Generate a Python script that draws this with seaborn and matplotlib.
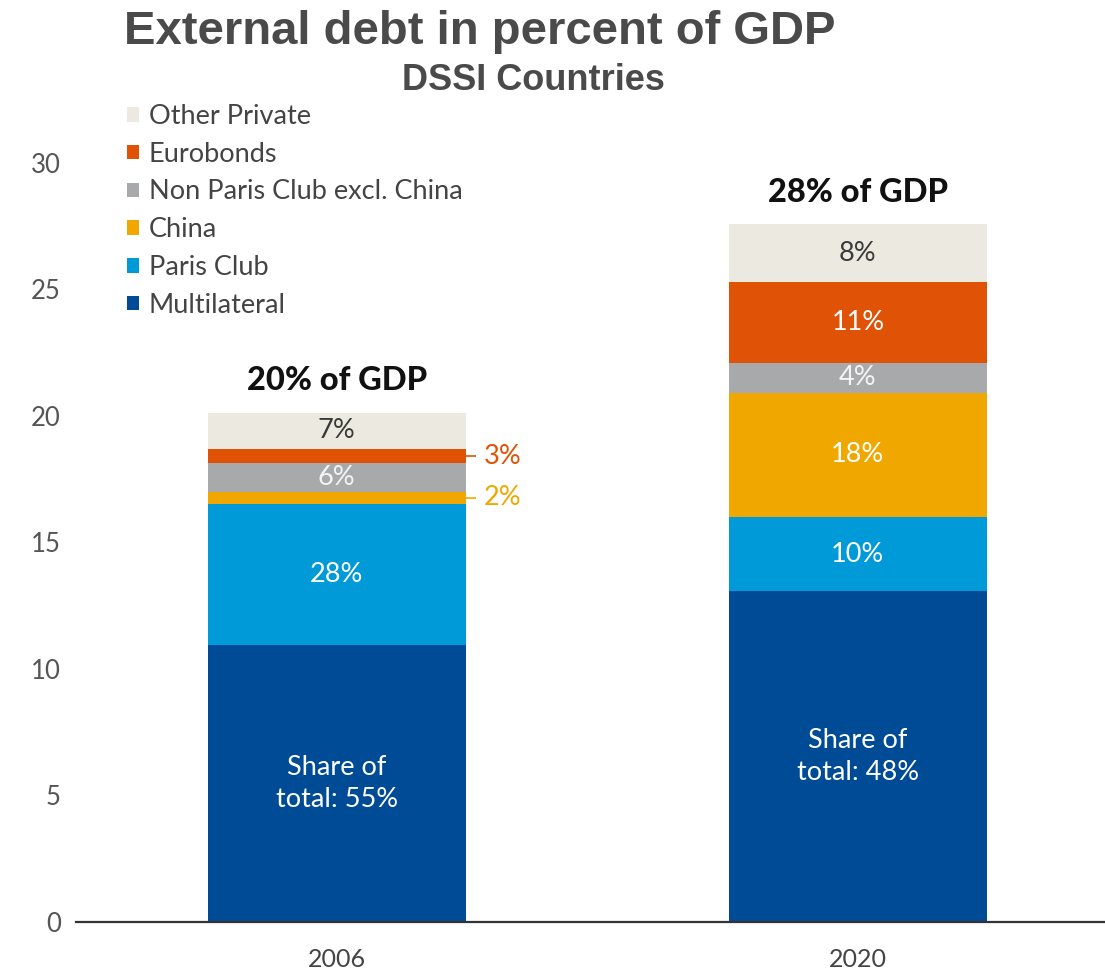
import matplotlib
matplotlib.use("Agg")
import matplotlib.pyplot as plt
from matplotlib.patches import Patch
import seaborn as sns
import numpy as np
import pandas as pd

# Years and creditor groups (stacked bottom to top)
years = ["2006", "2020"]
creditors = ["Multilateral", "Paris Club", "China",
             "Non Paris Club excl. China", "Eurobonds", "Other Private"]

# External debt by creditor, percent of GDP
multilateral = [10.95, 13.08]
paris_club = [5.57, 2.92]
china = [0.49, 4.92]
non_paris_club = [1.12, 1.19]
eurobonds = [0.57, 3.17]
other_private = [1.43, 2.29]

# Share of total external debt, percent (segment labels)
share_multilateral = [55, 48]
share_paris_club = [28, 10]
share_china = [2, 18]
share_non_paris_club = [6, 4]
share_eurobonds = [3, 11]
share_other_private = [7, 8]

# Headline totals, percent of GDP
totals_label = [20, 28]

colors = {
    "Multilateral": "#004b96",
    "Paris Club": "#009ad9",
    "China": "#f0a800",
    "Non Paris Club excl. China": "#a8a9ab",
    "Eurobonds": "#e05206",
    "Other Private": "#ebe9e0",
}

series = [multilateral, paris_club, china, non_paris_club, eurobonds, other_private]
shares = [share_multilateral, share_paris_club, share_china,
          share_non_paris_club, share_eurobonds, share_other_private]

sns.set_theme(style="white")
plt.rcParams["font.family"] = ["Lato", "DejaVu Sans"]

fig = plt.figure(figsize=(11.05, 9.73), dpi=100)
ax = fig.add_axes([76 / 1105, 51 / 973, 1 - 76 / 1105, (922 - 87) / 973])

bottom = np.zeros(len(years))
for name, vals in zip(creditors, series):
    df = pd.DataFrame({"year": years, "value": vals})
    sns.barplot(data=df, x="year", y="value", bottom=bottom.copy(),
                color=colors[name], width=0.495, saturation=1,
                edgecolor="none", linewidth=0, ax=ax)
    bottom += np.array(vals)

ax.set_xlim(-0.5, 1.474)
ax.set_ylim(0, 33)
ax.set_yticks([0, 5, 10, 15, 20, 25, 30])
ax.set_xlabel("")
ax.set_ylabel("")
for s in ["top", "right", "left"]:
    ax.spines[s].set_visible(False)
ax.spines["bottom"].set_color("#333333")
ax.spines["bottom"].set_linewidth(1.6)
ax.tick_params(axis="y", length=0, labelsize=18.5, labelcolor="#555555", pad=11)
ax.tick_params(axis="x", length=0, labelsize=18, labelcolor="#444444", pad=19)
ax.grid(False)

# Segment labels inside the bars
cum = np.zeros(len(years))
label_colors = {
    "Multilateral": "white", "Paris Club": "white", "China": "white",
    "Non Paris Club excl. China": "#f4f4f4", "Eurobonds": "white",
    "Other Private": "#3a3a3a",
}
for name, vals, sh in zip(creditors, series, shares):
    for i, (v, s) in enumerate(zip(vals, sh)):
        mid = cum[i] + v / 2
        if name == "Multilateral":
            ax.text(i, mid, f"Share of\ntotal: {s}%", ha="center", va="center",
                    color="white", fontsize=19.5, linespacing=1.35)
        elif v < 0.8:
            # thin slices get an outside callout
            c = colors[name]
            ax.plot([i + 0.2475, i + 0.268], [mid, mid], color=c, lw=1.2,
                    solid_capstyle="butt")
            ax.text(i + 0.282, mid, f"{s}%", ha="left", va="center",
                    color=c, fontsize=19.5)
        else:
            ax.text(i, mid, f"{s}%", ha="center", va="center",
                    color=label_colors[name], fontsize=19.5)
    cum += np.array(vals)

# Totals above bars
for i, t in enumerate(totals_label):
    ax.text(i, cum[i] + 1.28, f"{t}% of GDP", ha="center", va="center",
            fontsize=23.5, fontweight="black", color="#111111")

# Legend (top of stack first)
handles = [Patch(facecolor=colors[n], edgecolor="none") for n in creditors[::-1]]
fig.legend(handles, creditors[::-1], loc="upper left",
           bbox_to_anchor=(127 / 1105, 1 - 104 / 973), frameon=False,
           fontsize=19.5, handlelength=0.45, handleheight=0.45,
           handletextpad=0.35, labelspacing=0.47, labelcolor="#444444",
           borderaxespad=0, borderpad=0)

fig.text(480 / 1105, 1 - 32 / 973, "External debt in percent of GDP",
         ha="center", va="center", fontsize=34, fontweight="bold",
         color="#4a4a4a", family=["Liberation Sans", "DejaVu Sans"])
fig.text(533 / 1105, 1 - 81 / 973, "DSSI Countries",
         ha="center", va="center", fontsize=26, fontweight="bold",
         color="#4a4a4a", family=["Liberation Sans", "DejaVu Sans"])

fig.savefig("out.png", dpi=100)
